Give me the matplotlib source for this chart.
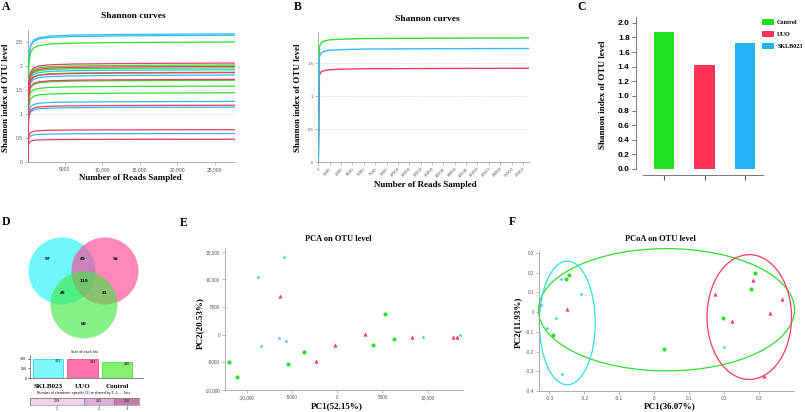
import matplotlib
matplotlib.use('Agg')
import matplotlib.pyplot as plt
from matplotlib.patches import Circle, Ellipse, Patch
import numpy as np

W, H = 805, 412
fig = plt.figure(figsize=(W / 100, H / 100), dpi=100)

SERIF = 'Liberation Serif'
SANS = 'Liberation Sans'
GREEN = '#2fdf2f'
RED = '#f23a62'
CYAN = '#2fbdf0'

# ---------------- data ----------------
groups = ['Control', 'UUO', 'SKLB023']
# Panel A: final Shannon values of each sample curve
a_control = [2.51, 2.03, 1.97, 1.88, 1.71, 1.59, 1.45]
a_uuo = [2.07, 2.00, 1.87, 1.73, 1.19, 0.68, 0.48]
a_sklb = [2.68, 2.65, 1.93, 1.82, 1.27, 1.15, 0.60]
# shared rarefaction shape (fraction of final value vs reads)
rare_reads = [1, 150, 400, 800, 1500, 3000, 6000, 12000, 20000, 27700]
rare_frac_a = [0, 0.80, 0.91, 0.95, 0.97, 0.983, 0.99, 0.995, 0.998, 1.0]
rare_frac_b = [0, 0.93, 0.962, 0.976, 0.985, 0.99, 0.995, 0.997, 0.999, 1.0]
# Panel B / C: group means
group_means = [1.88, 1.42, 1.72]
b_ticks = [1, 1500, 3000, 4500, 6000, 7500, 9000, 10500, 12000, 13500, 15000,
           16500, 18000, 19500, 21000, 22500, 24000, 25500, 27000]
a_xticks = [5000, 10000, 15000, 20000, 25000]
# Panel D: Venn counts (SKLB023=S, UUO=U, Control=C)
venn_sets = ['SKLB023', 'UUO', 'Control']
venn_regions = ['S', 'U', 'C', 'SU', 'SC', 'UC', 'SUC']
venn_counts = [97, 92, 50, 49, 45, 41, 110]
# Panel E: PCA
pca_ctrl_x = [-12000, -11100, -5470, -3650, 3940, 5330, 6280]
pca_ctrl_y = [-4940, -7650, -5360, -3190, -1810, 3740, -780]
pca_uuo_x = [-6310, -2340, -290, 3070, 8290, 12770, 13250]
pca_uuo_y = [6990, -4760, -1930, 120, -360, -360, -360]
pca_sklb_x = [-8760, -8470, -5840, -6390, -5660, 9490, 13580]
pca_sklb_y = [10540, -2050, 14040, -600, -1200, -360, -120]
# Panel F: PCoA
pcoa_ctrl_x = [-0.254, -0.244, -0.291, 0.029, 0.198, 0.276, 0.289]
pcoa_ctrl_y = [0.170, 0.190, -0.118, -0.188, -0.032, 0.117, 0.200]
pcoa_uuo_x = [-0.251, 0.174, 0.223, 0.284, 0.330, 0.366, 0.315]
pcoa_uuo_y = [0.015, 0.093, -0.047, 0.162, -0.002, 0.068, -0.322]
pcoa_sklb_x = [-0.266, -0.209, -0.323, -0.280, -0.308, -0.264, 0.200]
pcoa_sklb_y = [0.167, 0.090, 0.037, -0.032, -0.080, -0.315, -0.175]
# ellipses: center x, center y, width, height (Control, UUO, SKLB023)
ell_cx = [0.035, 0.272, -0.249]
ell_cy = [0.012, -0.025, -0.055]
ell_w = [0.733, 0.242, 0.160]
ell_h = [0.620, 0.633, 0.627]


def ax_px(l, t, r, b):
    return fig.add_axes([l / W, 1 - b / H, (r - l) / W, (b - t) / H])


def ftext(x, y, s, **kw):
    fig.text(x / W, 1 - y / H, s, **kw)


def fmt_num(v):
    if abs(v) >= 10000:
        return f"{v:,.0f}"
    return f"{v:.0f}"


def style_light(ax, tsize=3.6):
    for sp in ['top', 'right']:
        ax.spines[sp].set_visible(False)
    for sp in ['left', 'bottom']:
        ax.spines[sp].set_color('#a0a0a0')
        ax.spines[sp].set_linewidth(0.6)
    ax.tick_params(length=2, width=0.5, color='#a0a0a0', labelsize=tsize,
                   labelcolor='#555555', pad=1.5)
    for lab in ax.get_xticklabels() + ax.get_yticklabels():
        lab.set_fontfamily(SANS)


bold_serif = dict(fontfamily=SERIF, fontweight='bold', color='black')

# ---------------- Panel A ----------------
axA = ax_px(27.5, 30, 235, 162.3)
ra = np.array(rare_reads)
fa = np.array(rare_frac_a)
for vals, col in [(a_sklb, CYAN), (a_control, GREEN), (a_uuo, RED)]:
    for v in vals:
        axA.plot(ra, v * fa, color=col, lw=0.9, zorder=3)
axA.set_xlim(0, 27700)
axA.set_ylim(0, 2.76)
axA.set_yticks([0, 0.5, 1, 1.5, 2, 2.5])
axA.set_yticklabels(['0', '0.5', '1', '1.5', '2', '2.5'])
axA.set_xticks(a_xticks)
axA.set_xticklabels([fmt_num(v) for v in a_xticks])
for yv in [0.5, 1, 1.5, 2, 2.5]:
    axA.axhline(yv, color='#c8d0dc', lw=0.5, ls=(0, (2, 2)), zorder=1)
style_light(axA)
ftext(133, 16, 'Shannon curves', fontsize=6.8, ha='center', va='center', **bold_serif)
ftext(130, 178, 'Number of Reads Sampled', fontsize=6.5, ha='center', va='center', **bold_serif)
ftext(6, 98, 'Shannon index of OTU level', fontsize=6.5, ha='center', va='center',
      rotation=90, **bold_serif)
ftext(2, 7, 'A', fontsize=8.5, ha='left', va='center', **bold_serif)

# ---------------- Panel B ----------------
axB = ax_px(318.3, 32, 529, 162)
fb = np.array(rare_frac_b)
rb = np.array(rare_reads) * 27800 / 27700
for v, col in zip(group_means, [GREEN, RED, CYAN]):
    axB.plot(rb, v * fb, color=col, lw=1.0, zorder=3)
axB.set_xlim(0, 27800)
axB.set_ylim(0, 1.97)
axB.set_yticks([0, 0.5, 1, 1.5])
axB.set_yticklabels(['0', '0.5', '1', '1.5'])
axB.set_xticks(b_ticks)
axB.set_xticklabels([str(t) for t in b_ticks], rotation=45, ha='right',
                    rotation_mode='anchor')
for yv in [0.5, 1, 1.5]:
    axB.axhline(yv, color='#c8d0dc', lw=0.5, ls=(0, (2, 2)), zorder=1)
style_light(axB, tsize=3.2)
ftext(427, 19, 'Shannon curves', fontsize=6.8, ha='center', va='center', **bold_serif)
ftext(425, 185, 'Number of Reads Sampled', fontsize=6.5, ha='center', va='center', **bold_serif)
ftext(298, 98, 'Shannon index of OTU level', fontsize=6.5, ha='center', va='center',
      rotation=90, **bold_serif)
ftext(294, 7, 'B', fontsize=8.5, ha='left', va='center', **bold_serif)

# ---------------- Panel C ----------------
axC = ax_px(636, 17, 763, 169)
xc = np.arange(len(groups))
cols_c = ['#22e022', '#ff3355', '#22b4f4']
axC.bar(xc, group_means, width=0.5, color=cols_c, edgecolor='none', zorder=2)
axC.set_xlim(-0.69, 2.44)
axC.set_ylim(0, 2.08)
axC.set_yticks(np.arange(0, 2.01, 0.2))
axC.set_yticklabels([f"{v:.1f}" for v in np.arange(0, 2.01, 0.2)])
axC.set_xticks(xc)
axC.set_xticklabels(['', '', ''])
for sp in ['top', 'right']:
    axC.spines[sp].set_visible(False)
axC.spines['left'].set_bounds(0, 2.08)
axC.spines['bottom'].set_position(('outward', 4))
axC.spines['bottom'].set_bounds(-0.52, 2.44)
for sp in ['left', 'bottom']:
    axC.spines[sp].set_color('#777777')
    axC.spines[sp].set_linewidth(0.7)
axC.tick_params(axis='y', length=3, width=0.7, color='#777777', labelsize=6, pad=1.5)
axC.tick_params(axis='x', length=3.5, width=0.8, color='#555555')
for lab in axC.get_yticklabels():
    lab.set_fontfamily(SANS)
    lab.set_fontweight('bold')
handles = [Patch(facecolor=c, edgecolor='none') for c in cols_c]
axC.legend(handles, groups, loc='upper left', bbox_to_anchor=(761 / W, 1 - 18 / H),
           bbox_transform=fig.transFigure, frameon=False, handlelength=2.0,
           handleheight=1.1, labelspacing=0.95, handletextpad=0.45, borderaxespad=0,
           borderpad=0.2, prop=dict(family=SERIF, weight='bold', size=4.4))
ftext(603, 95, 'Shannon index of OTU level', fontsize=6.5, ha='center', va='center',
      rotation=90, **bold_serif)
ftext(577, 7, 'C', fontsize=8.5, ha='left', va='center', **bold_serif)

# ---------------- Panel D ----------------
axD = ax_px(0, 195, 150, 350)
axD.set_xlim(0, 150)
axD.set_ylim(350, 195)
axD.axis('off')
for (cx, cy), fc, al in [((62, 271), '#22f2f5', 0.65), ((105, 271), '#ff3d8f', 0.62),
                         ((84, 305), '#40e840', 0.62)]:
    axD.add_patch(Circle((cx, cy), 33.5, facecolor=fc, edgecolor='none', alpha=al))
venn_pos = {'S': (48, 259), 'U': (116, 259), 'C': (84, 324), 'SU': (83, 259),
            'SC': (63, 293), 'UC': (105, 293), 'SUC': (84, 281)}
for reg, cnt in zip(venn_regions, venn_counts):
    x, y = venn_pos[reg]
    axD.text(x, y, str(cnt), fontsize=3, ha='center', va='center', color='black',
             fontweight='bold')
ftext(2, 222, 'D', fontsize=8.5, ha='left', va='center', **bold_serif)

# list sizes
set_sizes = []
for key in ['S', 'U', 'C']:
    set_sizes.append(sum(c for r, c in zip(venn_regions, venn_counts) if key in r))
axDb = ax_px(30, 355, 143, 378)
xd = np.arange(3)
bar_fc = ['#7ff6fb', '#ff74aa', '#86f070']
bar_ec = ['#30d8e8', '#f84d8d', '#52d846']
axDb.bar(xd, set_sizes, width=0.87, color=bar_fc, edgecolor=bar_ec, linewidth=0.6)
for x, v in zip(xd, set_sizes):
    axDb.text(x + 0.3, v * 0.88, str(v), fontsize=2.3, ha='center', va='center')
axDb.set_xlim(-0.52, 2.75)
axDb.set_ylim(0, 363)
axDb.set_yticks([0, 150, 300])
axDb.set_xticks([])
for sp in ['top', 'right']:
    axDb.spines[sp].set_visible(False)
for sp in ['left', 'bottom']:
    axDb.spines[sp].set_color('#555555')
    axDb.spines[sp].set_linewidth(0.5)
axDb.tick_params(axis='y', length=1.5, width=0.4, labelsize=2.3, pad=1)
ftext(84, 352, 'Size of each list', fontsize=2.4, ha='center', va='center')
for x, name in zip([48, 82.5, 117], venn_sets):
    ftext(x, 386, name, fontsize=5, ha='center', va='center', **bold_serif)
ftext(84, 393, 'Number of elements: specific (1) or shared by 2, 3, ... lists',
      fontsize=2.3, ha='center', va='center')

shared = [sum(c for r, c in zip(venn_regions, venn_counts) if len(r) == k) for k in (1, 2, 3)]
axDs = ax_px(30, 398, 139, 405)
left = 0
for k, (v, c) in enumerate(zip(shared, ['#efd3ea', '#dcb0d6', '#c47eaa'])):
    axDs.barh(0, v, left=left, height=1, color=c, edgecolor='#8a6a86', linewidth=0.4)
    axDs.text(left + v / 2, 0, str(v), fontsize=2.3, ha='center', va='center')
    left += v
axDs.set_xlim(0, left)
axDs.set_ylim(-0.5, 0.5)
axDs.set_yticks([])
cum = np.cumsum([0] + shared)
axDs.set_xticks((cum[:-1] + cum[1:]) / 2)
axDs.set_xticklabels(['1', '2', '3'])
axDs.tick_params(axis='x', length=1, width=0.4, labelsize=2.3, pad=0.8)
for sp in axDs.spines.values():
    sp.set_linewidth(0.4)
    sp.set_color('#777777')

# ---------------- Panel E ----------------
axE = ax_px(225, 248, 463, 390)
axE.scatter(pca_ctrl_x, pca_ctrl_y, s=9, marker='o', color=GREEN, linewidths=0, zorder=3)
axE.scatter(pca_uuo_x, pca_uuo_y, s=9, marker='^', color=RED, linewidths=0, zorder=3)
axE.scatter(pca_sklb_x, pca_sklb_y, s=10, marker='*', color=CYAN, linewidths=0, zorder=3)
axE.set_xlim(-12400, 13900)
axE.set_ylim(-10000, 15700)
e_xt = [-10000, -5000, 0, 5000, 10000]
e_yt = [-10000, -5000, 0, 5000, 10000, 15000]
axE.set_xticks(e_xt)
axE.set_xticklabels([fmt_num(v) for v in e_xt])
axE.set_yticks(e_yt)
axE.set_yticklabels([fmt_num(v) for v in e_yt])
style_light(axE, tsize=3.4)
ftext(338, 239, 'PCA on OTU level', fontsize=6, ha='center', va='center', **bold_serif)
ftext(337, 406, 'PC1(52.15%)', fontsize=6.5, ha='center', va='center', **bold_serif)
ftext(200, 323, 'PC2(20.53%)', fontsize=6.5, ha='center', va='center', rotation=90, **bold_serif)
ftext(180, 223, 'E', fontsize=8.5, ha='left', va='center', **bold_serif)

# ---------------- Panel F ----------------
axF = ax_px(539, 251, 794, 391)
for cx, cy, w, h, col in zip(ell_cx, ell_cy, ell_w, ell_h, [GREEN, RED, '#30dce8']):
    axF.add_patch(Ellipse((cx, cy), w, h, facecolor='none', edgecolor=col, lw=0.9,
                          zorder=2, clip_on=False))
axF.scatter(pcoa_ctrl_x, pcoa_ctrl_y, s=9, marker='o', color=GREEN, linewidths=0, zorder=3)
axF.scatter(pcoa_uuo_x, pcoa_uuo_y, s=9, marker='^', color=RED, linewidths=0, zorder=3)
axF.scatter(pcoa_sklb_x, pcoa_sklb_y, s=10, marker='*', color=CYAN, linewidths=0, zorder=3)
axF.set_xlim(-0.33, 0.40)
axF.set_ylim(-0.40, 0.31)
f_xt = [-0.3, -0.2, -0.1, 0, 0.1, 0.2, 0.3]
f_yt = [-0.4, -0.3, -0.2, -0.1, 0, 0.1, 0.2, 0.3]
axF.set_xticks(f_xt)
axF.set_xticklabels(['0' if v == 0 else f"{v:.1f}" for v in f_xt])
axF.set_yticks(f_yt)
axF.set_yticklabels(['0' if v == 0 else f"{v:.1f}" for v in f_yt])
style_light(axF, tsize=3.4)
ftext(660, 239, 'PCoA on OTU level', fontsize=6, ha='center', va='center', **bold_serif)
ftext(670, 406, 'PC1(36.07%)', fontsize=6.5, ha='center', va='center', **bold_serif)
ftext(518, 322, 'PC2(11.93%)', fontsize=6.5, ha='center', va='center', rotation=90, **bold_serif)
ftext(509, 222, 'F', fontsize=8.5, ha='left', va='center', **bold_serif)

fig.savefig('out.png', dpi=100)
